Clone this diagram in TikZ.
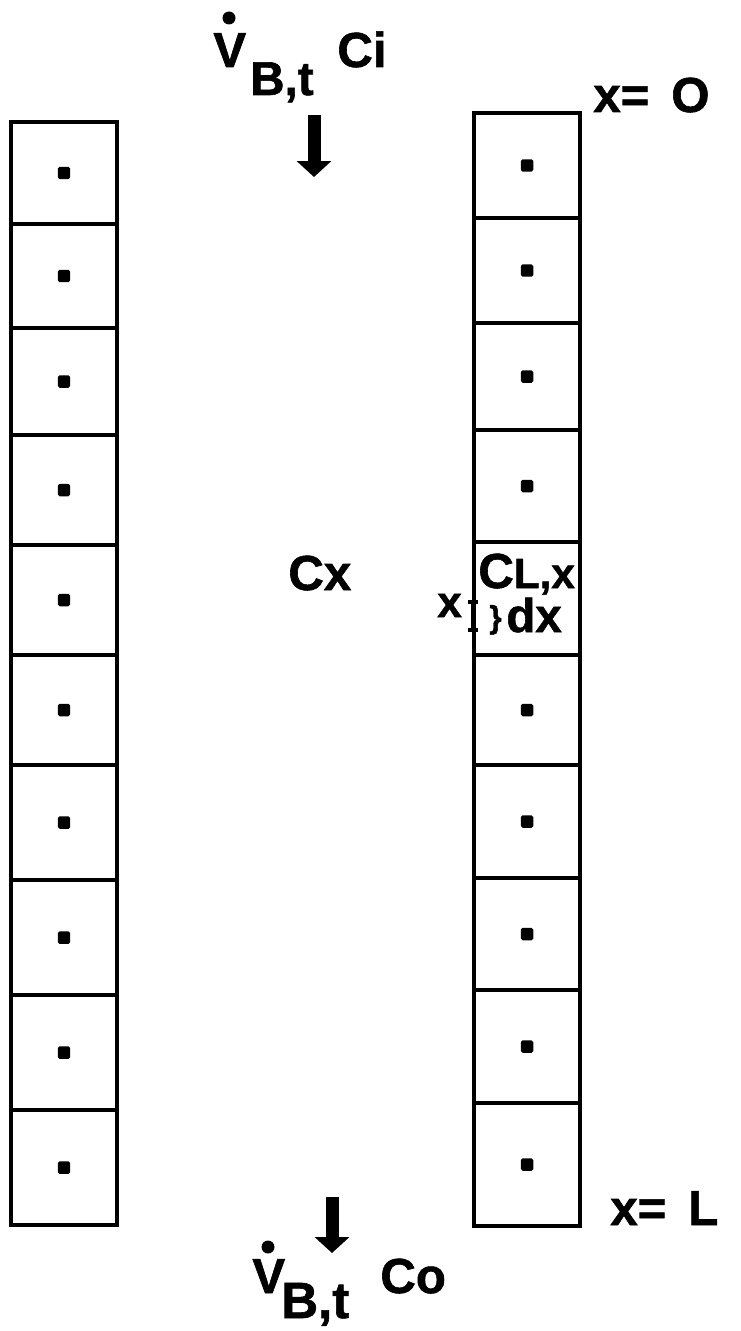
\documentclass[tikz,border=0pt]{standalone}
\usepackage{fontspec}
\setmainfont{Liberation Sans}[BoldFeatures={FakeBold=1.2}]
\usepackage{xcolor}
\usepackage{tikz}
\usetikzlibrary{arrows.meta}

\begin{document}
\begin{tikzpicture}[x=0.02cm,y=-0.02cm,
    celda/.style={draw,line width=2.1pt,minimum width=2.13cm,inner sep=0pt},
    punto/.style={fill,rounded corners=1pt,minimum size=0.25cm,inner sep=0pt},
    texto/.style={inner sep=0pt,anchor=base west,font=\bfseries\fontsize{25}{30}\selectfont},
    grande/.style={font=\bfseries\fontsize{28}{32}\selectfont},
    flecha/.style={line width=0.26cm,-{Triangle[length=0.32cm,width=0.68cm]}}]

    % Marco de la figura
    \useasboundingbox (0,0) rectangle (740,1331);

    % Columna izquierda
    \foreach \i/\ya/\yb in {1/122/224,2/224/328,3/328/435,4/435/545,5/545/655,
                            6/655/765,7/765/880,8/880/995,9/995/1110,10/1110/1225}
        \node[celda,minimum height={(\yb-\ya)*0.02cm}] (izq\i) at (64,{(\ya+\yb)/2}) {};

    % Columna derecha
    \foreach \i/\ya/\yb in {1/113/218,2/218/323,3/323/430,4/430/542,5/542/655,
                            6/655/765,7/765/878,8/878/990,9/990/1103,10/1103/1226}
        \node[celda,minimum height={(\yb-\ya)*0.02cm}] (der\i) at (527,{(\ya+\yb)/2}) {};

    % Puntos de las celdas
    \foreach \i in {1,...,10}
        \node[punto] (pizq\i) at (izq\i) {};
    \foreach \i in {1,2,3,4,6,7,8,9,10}
        \node[punto] (pder\i) at (der\i) {};

    % Entrada superior
    \node[texto,grande] (vent) at (213,67) {V};
    \fill (229,18) circle (0.13cm);
    \node[texto,font=\bfseries\fontsize{27}{30}\selectfont] (bent) at (250,95) {B,t};
    \node[texto,grande] (cent) at (337,67) {Ci};
    \coordinate (fent1) at (314,115);
    \coordinate (fent2) at (314,177);
    \draw[flecha] (fent1) -- (fent2);

    % Salida inferior
    \coordinate (fsal1) at (332,1197);
    \coordinate (fsal2) at (332,1253);
    \draw[flecha] (fsal1) -- (fsal2);
    \node[texto,grande] (vsal) at (252,1293) {V};
    \fill (268,1247) circle (0.13cm);
    \node[texto,font=\bfseries\fontsize{29}{32}\selectfont] (bsal) at (281,1318) {B,t};
    \node[texto,grande] (csal) at (380,1293) {Co};

    % Extremos x = 0 y x = L
    \node[texto,grande] (xcero) at (593,112) {x=\;\,O};
    \node[texto,grande] (xlong) at (610,1225) {x=\;\,L};

    % Textos del centro
    \node[texto,grande] (cx) at (288,590) {Cx};
    \node[texto,grande] (clx) at (478,588) {C{\fontsize{24}{28}\selectfont L,x}};
    \node[texto] (xpos) at (437,617) {x};
    \coordinate (dxa) at (473,600);
    \coordinate (dxb) at (473,632);
    \draw[line width=2pt,{Bar[width=0.2cm]}-{Bar[width=0.2cm]}] (dxa) -- (dxb);
    \node[texto,font=\bfseries\fontsize{18}{20}\selectfont] (llave) at (489,628) {\}};
    \node[texto,font=\bfseries\fontsize{27}{30}\selectfont] (dx) at (506,632) {dx};

\end{tikzpicture}
\end{document}
